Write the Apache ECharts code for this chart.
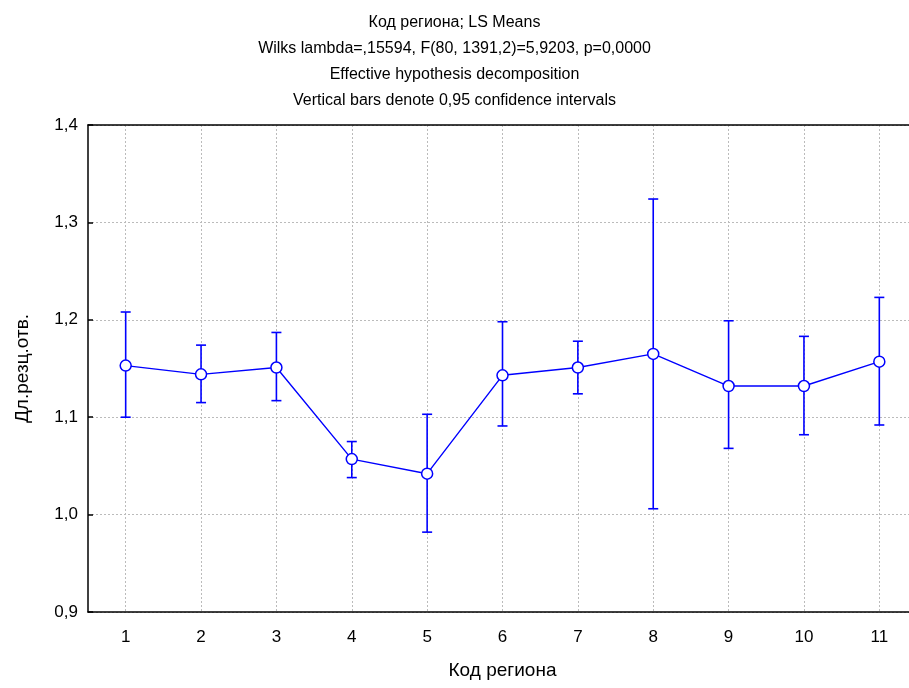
<!DOCTYPE html>
<html>
<head>
<meta charset="utf-8">
<script src="https://cdn.jsdelivr.net/npm/echarts@6/dist/echarts.min.js"></script>
<style>html,body{margin:0;padding:0;background:#fff;overflow:hidden}#c{width:909px;height:688px}</style>
</head>
<body>
<div id="c"></div>
<script>
const categories = ['1','2','3','4','5','6','7','8','9','10','11'];
const means = [1.153, 1.144, 1.151, 1.057, 1.042, 1.143, 1.151, 1.165, 1.132, 1.132, 1.157];
const upper = [1.208, 1.174, 1.187, 1.075, 1.103, 1.198, 1.178, 1.324, 1.199, 1.183, 1.223];
const lower = [1.100, 1.115, 1.117, 1.038, 0.982, 1.091, 1.124, 1.006, 1.068, 1.082, 1.092];
const titleLines = [
  'Код региона; LS Means',
  'Wilks lambda=,15594, F(80, 1391,2)=5,9203, p=0,0000',
  'Effective hypothesis decomposition',
  'Vertical bars denote 0,95 confidence intervals'
];
const xName = 'Код региона';
const yName = 'Дл.резц.отв.';

const FONT = "'Liberation Sans', Arial, sans-serif";
const BLUE = '#0000ff';
const chart = echarts.init(document.getElementById('c'), null, {renderer: 'canvas'});
const errData = categories.map((c, i) => [i, lower[i], upper[i]]);

chart.setOption({
  animation: false,
  backgroundColor: '#fff',
  title: {
    text: titleLines.join('\n'),
    left: 'center',
    top: 5,
    textStyle: {fontFamily: FONT, fontSize: 16, fontWeight: 'normal', color: '#000', lineHeight: 26}
  },
  grid: {left: 88, top: 125, width: 829, bottom: 76, containLabel: false, outerBoundsMode: 'none'},
  xAxis: [{
    type: 'category',
    data: categories,
    boundaryGap: true,
    position: 'bottom',
    name: xName,
    nameLocation: 'middle',
    nameGap: 49,
    nameTextStyle: {fontFamily: FONT, fontSize: 19, color: '#000'},
    axisLine: {lineStyle: {color: '#000', width: 1.5}},
    axisTick: {inside: true, alignWithLabel: true, length: 5, lineStyle: {color: '#000', width: 1.5}},
    axisLabel: {fontFamily: FONT, fontSize: 17, color: '#000', margin: 17, interval: 0},
    splitLine: {show: true, alignWithLabel: true, interval: 0, lineStyle: {color: '#bbb', type: [2, 2], width: 1}}
  }, {
    type: 'category',
    data: categories,
    boundaryGap: true,
    position: 'top',
    axisLine: {lineStyle: {color: '#000', width: 1.5}},
    axisTick: {inside: true, alignWithLabel: true, length: 5, lineStyle: {color: '#000', width: 1.5}},
    axisLabel: {show: false},
    splitLine: {show: false}
  }],
  yAxis: {
    type: 'value',
    min: 0.9, max: 1.4, interval: 0.1,
    name: yName,
    nameLocation: 'middle',
    nameGap: 56,
    nameTextStyle: {fontFamily: FONT, fontSize: 19, color: '#000'},
    axisLine: {show: true, lineStyle: {color: '#000', width: 1.5}},
    axisTick: {show: true, inside: true, length: 5, lineStyle: {color: '#000', width: 1.5}},
    axisLabel: {fontFamily: FONT, fontSize: 17, color: '#000', margin: 10,
      formatter: v => v.toFixed(1).replace('.', ',')},
    splitLine: {show: true, lineStyle: {color: '#bbb', type: [2, 2], width: 1}}
  },
  series: [{
    type: 'custom',
    z: 2,
    data: errData,
    renderItem: function (params, api) {
      const x = api.value(0);
      const lo = api.coord([x, api.value(1)]);
      const hi = api.coord([x, api.value(2)]);
      const hw = 5;
      const style = {stroke: BLUE, lineWidth: 1.6, fill: null};
      return {
        type: 'group',
        children: [
          {type: 'line', shape: {x1: hi[0], y1: hi[1], x2: lo[0], y2: lo[1]}, style: style},
          {type: 'line', shape: {x1: hi[0] - hw, y1: hi[1], x2: hi[0] + hw, y2: hi[1]}, style: style},
          {type: 'line', shape: {x1: lo[0] - hw, y1: lo[1], x2: lo[0] + hw, y2: lo[1]}, style: style}
        ]
      };
    }
  }, {
    type: 'line',
    z: 3,
    data: means,
    symbol: 'circle',
    symbolSize: 11,
    showSymbol: true,
    lineStyle: {color: BLUE, width: 1.4},
    itemStyle: {color: '#fff', borderColor: BLUE, borderWidth: 1.5}
  }]
});
</script>
</body>
</html>
